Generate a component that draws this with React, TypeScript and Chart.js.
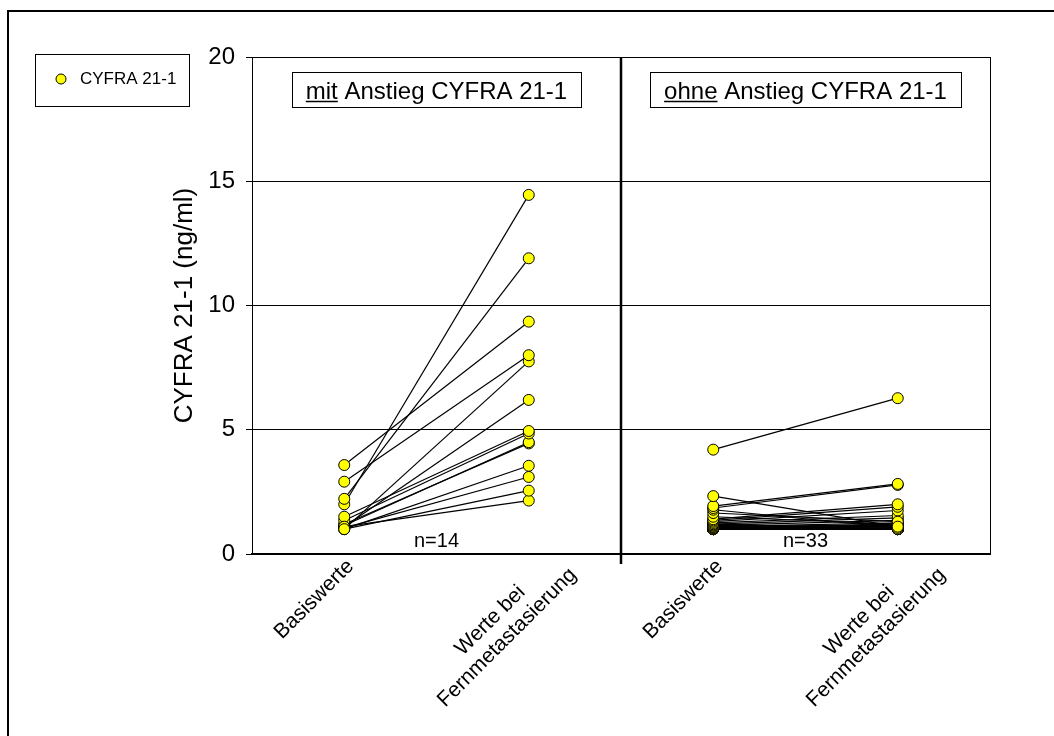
import React, { useEffect, useRef } from 'react';
import { Chart, registerables } from 'chart.js';

Chart.register(...registerables);

// Category axis: two panels, each with a baseline and a follow-up column
const categories: string[][] = [
  ['Basiswerte'],
  ['Werte bei', 'Fernmetastasierung'],
  ['Basiswerte'],
  ['Werte bei', 'Fernmetastasierung'],
];

const yTickValues = [0, 5, 10, 15, 20];
const yMin = 0;
const yMax = 20;
const yTitle = 'CYFRA 21-1 (ng/ml)';
const seriesName = 'CYFRA 21-1';

// Panel headings: underlined first word + remainder
const panelUnderlined = ['mit', 'ohne'];
const panelRest = ' Anstieg CYFRA 21-1';

// Patients with rising CYFRA 21-1 (baseline -> at distant metastasis)
const mitBasis = [3.58, 2.91, 2.22, 2.0, 1.0, 1.1, 1.5, 1.35, 1.15, 1.0, 1.05, 1.0, 1.1, 1.2];
const mitFern = [9.35, 8.0, 11.9, 14.45, 7.75, 6.2, 4.95, 4.85, 4.5, 3.55, 3.1, 2.55, 2.15, 4.45];

// Patients without rising CYFRA 21-1
const ohneBasis = [
  4.2, 2.33, 1.93, 1.85, 1.78, 1.65, 1.5, 1.4, 1.35, 1.3, 1.25,
  1.2, 1.2, 1.15, 1.15, 1.1, 1.1, 1.1, 1.05, 1.05, 1.05, 1.0,
  1.0, 1.0, 1.0, 1.0, 1.0, 1.0, 1.0, 1.0, 1.0, 1.0, 1.0,
];
const ohneFern = [
  6.27, 1.1, 2.82, 2.78, 1.05, 1.3, 1.2, 2.0, 1.9, 1.75, 1.55,
  1.45, 1.0, 1.35, 1.1, 1.25, 1.0, 1.15, 1.2, 1.0, 1.05, 1.0,
  1.1, 1.05, 1.0, 1.0, 1.15, 1.0, 1.05, 1.0, 1.0, 1.0, 1.0,
];

const FONT = '"Liberation Sans", Arial, Helvetica, sans-serif';
const font = (px: number) => `${px}px ${FONT}`;
const YELLOW = '#FFFF00';

const pairDataset = (a: number, b: number, leftPanel: boolean) => ({
  label: seriesName,
  data: leftPanel ? [a, b, null, null] : [null, null, a, b],
  borderColor: '#000000',
  borderWidth: 1.2,
  pointRadius: 5.5,
  pointHoverRadius: 5.5,
  pointBackgroundColor: YELLOW,
  pointBorderColor: '#000000',
  pointBorderWidth: 1,
  spanGaps: false,
  tension: 0,
});

const decorPlugin = {
  id: 'decor',
  afterDraw(chart: any) {
    const { ctx, chartArea: a, scales } = chart;
    const xs = scales.x;
    ctx.save();

    // outer frame (top and left edges)
    ctx.strokeStyle = '#000';
    ctx.lineWidth = 2;
    ctx.beginPath();
    ctx.moveTo(8, 736);
    ctx.lineTo(8, 11);
    ctx.lineTo(1054, 11);
    ctx.stroke();

    // right edge of plot frame
    ctx.lineWidth = 1;
    const rx = Math.round(a.right) + 0.5;
    ctx.beginPath();
    ctx.moveTo(rx, a.top);
    ctx.lineTo(rx, a.bottom);
    ctx.stroke();

    // panel divider
    const mid = (xs.getPixelForValue(1) + xs.getPixelForValue(2)) / 2;
    ctx.lineWidth = 2.5;
    ctx.beginPath();
    ctx.moveTo(mid, a.top);
    ctx.lineTo(mid, a.bottom + 10);
    ctx.stroke();

    const centers = [(a.left + mid) / 2, (mid + a.right) / 2];

    // panel headings in boxes
    ctx.font = font(24);
    ctx.textBaseline = 'alphabetic';
    ctx.textAlign = 'left';
    panelUnderlined.forEach((u, i) => {
      const w1 = ctx.measureText(u).width;
      const w2 = ctx.measureText(panelRest).width;
      const boxW = Math.round(w1 + w2 + 28);
      const boxH = 35;
      const bx = Math.round(centers[i] - boxW / 2) + 0.5;
      const by = Math.round(a.top + 15) + 0.5;
      ctx.fillStyle = '#fff';
      ctx.fillRect(bx, by, boxW, boxH);
      ctx.strokeStyle = '#000';
      ctx.lineWidth = 1;
      ctx.strokeRect(bx, by, boxW, boxH);
      const tx = centers[i] - (w1 + w2) / 2;
      const base = by + 26;
      ctx.fillStyle = '#000';
      ctx.fillText(u, tx, base);
      ctx.fillText(panelRest, tx + w1, base);
      ctx.lineWidth = 1.5;
      ctx.beginPath();
      ctx.moveTo(tx, base + 3);
      ctx.lineTo(tx + w1, base + 3);
      ctx.stroke();
    });

    // group sizes
    ctx.font = font(20);
    ctx.textAlign = 'center';
    ctx.textBaseline = 'middle';
    ctx.fillStyle = '#000';
    ctx.fillText(`n=${mitBasis.length}`, centers[0], a.bottom - 13);
    ctx.fillText(`n=${ohneBasis.length}`, centers[1], a.bottom - 13);

    // rotated category labels
    ctx.font = font(21);
    ctx.textAlign = 'center';
    ctx.textBaseline = 'middle';
    categories.forEach((lines, i) => {
      const tx = xs.getPixelForValue(i);
      const W = Math.max(...lines.map((l) => ctx.measureText(l).width));
      const lh = 24;
      const cx = tx - 30;
      const cy = a.bottom + 9 + 0.354 * W;
      ctx.save();
      ctx.translate(cx, cy);
      ctx.rotate(-Math.PI / 4);
      lines.forEach((l, j) => {
        ctx.fillText(l, 0, (j - (lines.length - 1) / 2) * lh);
      });
      ctx.restore();
    });

    // y axis title
    ctx.save();
    ctx.translate(185, (a.top + a.bottom) / 2);
    ctx.rotate(-Math.PI / 2);
    ctx.font = font(26);
    ctx.textAlign = 'center';
    ctx.textBaseline = 'middle';
    ctx.fillText(yTitle, 0, 0);
    ctx.restore();

    // legend
    ctx.strokeStyle = '#000';
    ctx.lineWidth = 1;
    ctx.fillStyle = '#fff';
    ctx.fillRect(35.5, 54.5, 154, 52);
    ctx.strokeRect(35.5, 54.5, 154, 52);
    ctx.beginPath();
    ctx.arc(61, 79, 5, 0, Math.PI * 2);
    ctx.fillStyle = YELLOW;
    ctx.fill();
    ctx.stroke();
    ctx.fillStyle = '#000';
    ctx.font = font(17);
    ctx.textAlign = 'left';
    ctx.textBaseline = 'middle';
    ctx.fillText(seriesName, 80, 79);

    ctx.restore();
  },
};

export default function App() {
  const canvasRef = useRef<HTMLCanvasElement | null>(null);

  useEffect(() => {
    const canvas = canvasRef.current;
    if (!canvas) return;

    const datasets = [
      ...mitBasis.map((v, i) => pairDataset(v, mitFern[i], true)),
      ...ohneBasis.map((v, i) => pairDataset(v, ohneFern[i], false)),
    ];

    const chart = new Chart(canvas, {
      type: 'line',
      data: {
        labels: categories,
        datasets: datasets as any,
      },
      options: {
        animation: false,
        responsive: false,
        devicePixelRatio: 1,
        layout: { padding: { top: 57, right: 64, left: 0, bottom: 0 } },
        plugins: {
          legend: { display: false },
          tooltip: { enabled: false },
        },
        scales: {
          x: {
            type: 'category',
            offset: true,
            grid: { display: false },
            border: { display: true, color: '#000', width: 2 },
            ticks: { display: false },
            afterFit: (scale: any) => {
              scale.height = 182;
            },
          },
          y: {
            min: yMin,
            max: yMax,
            afterBuildTicks: (scale: any) => {
              scale.ticks = yTickValues.map((v) => ({ value: v }));
            },
            grid: {
              color: '#000',
              lineWidth: 1,
              drawTicks: true,
              tickLength: 6,
              tickColor: '#000',
            },
            border: { display: true, color: '#000', width: 1 },
            ticks: {
              color: '#000',
              font: { family: FONT, size: 24 },
              padding: 11,
            },
            afterFit: (scale: any) => {
              scale.width = 252;
            },
          },
        },
      },
      plugins: [decorPlugin],
    });

    return () => chart.destroy();
  }, []);

  return (
    <div style={{ position: 'fixed', left: 0, top: 0, width: 1054, height: 736, background: '#fff' }}>
      <canvas ref={canvasRef} width={1054} height={736} />
    </div>
  );
}
